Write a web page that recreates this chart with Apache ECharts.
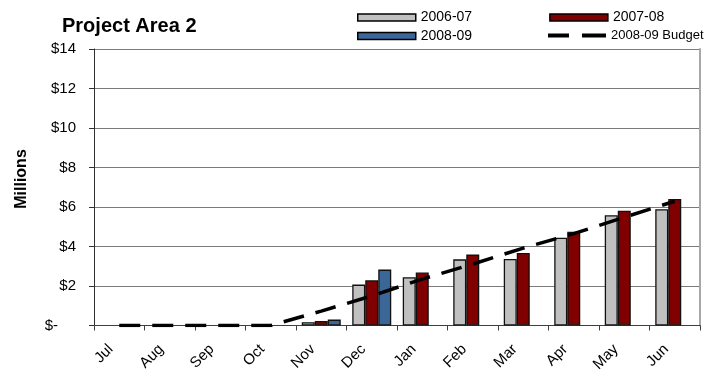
<!DOCTYPE html>
<html>
<head>
<meta charset="utf-8">
<script src="https://cdn.jsdelivr.net/npm/echarts@6/dist/echarts.min.js"></script>
<style>
  html, body { margin: 0; padding: 0; background: #fff; }
  #chart { width: 711px; height: 386px; }
</style>
</head>
<body>
<div id="chart"></div>
<script>
// Monthly spend for Project Area 2, in millions of dollars
const months = ['Jul', 'Aug', 'Sep', 'Oct', 'Nov', 'Dec', 'Jan', 'Feb', 'Mar', 'Apr', 'May', 'Jun'];
const fy0607 = [null, null, null, null, 0.17, 2.07, 2.44, 3.35, 3.37, 4.44, 5.58, 5.89];
const fy0708 = [null, null, null, null, 0.23, 2.29, 2.68, 3.59, 3.67, 4.75, 5.81, 6.41];
const fy0809 = [null, null, null, null, 0.30, 2.83, null, null, null, null, null, null];
const budget0809 = [0, 0, 0, 0, 0.73, 1.50, 2.35, 3.11, 3.92, 4.65, 5.48, 6.29];
const yTicks = [0, 2, 4, 6, 8, 10, 12, 14];

const FONT = '"Liberation Sans", Arial, sans-serif';

const chart = echarts.init(document.getElementById('chart'), null, { renderer: 'canvas' });

function barSeries(name, data, color) {
  return {
    name: name,
    type: 'bar',
    data: data,
    barWidth: 13,
    barGap: '0%',
    itemStyle: { color: color, borderColor: '#111', borderWidth: 1.3 },
    z: 2
  };
}

const legendText = { fontFamily: FONT, fontSize: 14, color: '#000' };
const boxLegend = {
  itemWidth: 58, itemHeight: 7, itemGap: 77, width: 340,
  icon: 'rect',
  itemStyle: { borderColor: '#000', borderWidth: 1.5 },
  textStyle: legendText
};

chart.setOption({
  animation: false,
  backgroundColor: '#fff',
  title: {
    text: 'Project Area 2',
    left: 57,
    top: 11,
    textStyle: { fontFamily: FONT, fontSize: 20, fontWeight: 'bold', color: '#000' }
  },
  legend: [
    Object.assign({ data: ['2006-07', '2007-08'], left: 352, top: 5.5 }, boxLegend),
    Object.assign({ data: ['2008-09'], left: 352, top: 24 }, boxLegend),
    {
      data: [{ name: '2008-09 Budget', icon: 'path://M0 0H21V4H0Z M34 0H58V4H34Z' }],
      left: 543, top: 24,
      itemWidth: 58, itemHeight: 4,
      itemStyle: { color: '#000', borderWidth: 0 },
      lineStyle: { width: 0 },
      textStyle: { fontFamily: FONT, fontSize: 13, color: '#000' }
    }
  ],
  graphic: [{
    type: 'text',
    x: 21.5, y: 179,
    rotation: Math.PI / 2,
    style: {
      text: 'Millions',
      font: 'bold 16px ' + FONT,
      fill: '#000',
      align: 'center',
      verticalAlign: 'middle'
    }
  }],
  grid: { left: 94, right: 11, top: 49, bottom: 60.5, containLabel: false },
  xAxis: {
    type: 'category',
    data: months,
    boundaryGap: true,
    axisLine: { lineStyle: { color: '#404040', width: 1 } },
    axisTick: { show: true, length: 5, lineStyle: { color: '#404040' } },
    axisLabel: {
      rotate: 45,
      margin: 13,
      padding: [0, 12, 0, 0],
      fontFamily: FONT, fontSize: 15, color: '#000'
    },
    splitLine: { show: false }
  },
  yAxis: [
    {
      type: 'value',
      min: yTicks[0],
      max: yTicks[yTicks.length - 1],
      interval: 2,
      axisLine: { show: true, lineStyle: { color: '#303030', width: 1 } },
      axisTick: { show: true, length: 5, lineStyle: { color: '#303030' } },
      axisLabel: {
        margin: 18,
        fontFamily: FONT, fontSize: 15, color: '#000',
        formatter: function (v) { return v === 0 ? '{z|$-}' : '$' + v; },
        rich: { z: { fontFamily: FONT, fontSize: 15, color: '#000', padding: [0, 18, 0, 0] } }
      },
      splitLine: { show: true, lineStyle: { color: '#7a7a7a', width: 1 } }
    },
    {
      type: 'value',
      position: 'right',
      min: 0, max: 14, interval: 2,
      axisLine: { show: true, lineStyle: { color: '#a8a8a8', width: 2 } },
      axisTick: { show: false },
      axisLabel: { show: false },
      splitLine: { show: false }
    }
  ],
  series: [
    barSeries('2006-07', fy0607, '#c0c0c0'),
    barSeries('2007-08', fy0708, '#800000'),
    barSeries('2008-09', fy0809, '#3b6698'),
    {
      name: '2008-09 Budget',
      type: 'line',
      data: budget0809,
      symbol: 'none',
      lineStyle: { color: '#000', width: 3.5, type: [21, 12] },
      itemStyle: { color: '#000' },
      z: 3
    }
  ]
});
</script>
</body>
</html>
